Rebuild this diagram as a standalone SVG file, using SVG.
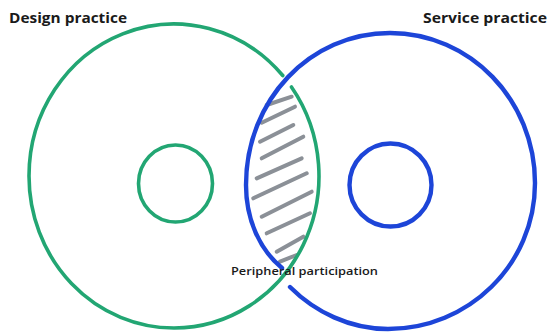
<svg xmlns="http://www.w3.org/2000/svg" width="550" height="332" viewBox="0 0 550 332">
<style>
.bg{fill:#ffffff}
.green{fill:none;stroke:#22a673;stroke-width:3.6;stroke-linecap:round;stroke-linejoin:round}
.blue{fill:none;stroke:#1d45d8;stroke-width:4.4;stroke-linecap:round;stroke-linejoin:round}
.hatch{fill:none;stroke:#8b9097;stroke-width:4;stroke-linecap:round}
.title{font-family:"Open Sans","Liberation Sans",Arial,sans-serif;font-weight:700;fill:#1a1a1a}
.label{font-family:"Open Sans","Liberation Sans",Arial,sans-serif;font-weight:600;fill:#1a1a1a}
</style>
<rect class="bg" x="0" y="0" width="550" height="332"/>
<g id="overlap-hatch">
<line class="hatch" x1="266.7" y1="105" x2="291.7" y2="96.7"/>
<line class="hatch" x1="261.7" y1="122.7" x2="295" y2="106.7"/>
<line class="hatch" x1="260" y1="141.7" x2="293.3" y2="125"/>
<line class="hatch" x1="261.7" y1="158.3" x2="303.3" y2="136.7"/>
<line class="hatch" x1="256.7" y1="178.3" x2="301.7" y2="158.3"/>
<line class="hatch" x1="253.3" y1="198.3" x2="306.7" y2="173.3"/>
<line class="hatch" x1="261.7" y1="216.7" x2="311.7" y2="191.7"/>
<line class="hatch" x1="266.7" y1="233.3" x2="310" y2="213.3"/>
<line class="hatch" x1="276.7" y1="251.7" x2="303.3" y2="236.7"/>
<line class="hatch" x1="280" y1="261.7" x2="296.7" y2="255"/>
</g>
<g id="design-practice">
<path class="green" d="M291.45,86.9 A145,152 0 0 1 174,328 A145,152 0 0 1 29,176 A145,152 0 0 1 282.75,75.5"/>
<ellipse class="green" cx="175.5" cy="183.5" rx="37" ry="38.5"/>
<text class="title" x="9" y="23" font-size="14.5" textLength="118" lengthAdjust="spacingAndGlyphs">Design practice</text>
</g>
<g id="service-practice">
<path class="blue" d="M290,287 C315,312 350,329 388,329 C468,329 535,265 535,183 C535,100 470,33 390,33 C310,33 246,100 246,185 C246,220 260,250 282,268"/>
<ellipse class="blue" cx="390.5" cy="185" rx="41" ry="41.5"/>
<text class="title" x="423" y="23" font-size="14.5" textLength="124" lengthAdjust="spacingAndGlyphs">Service practice</text>
</g>
<g id="peripheral-participation">
<text class="label" x="231" y="275" font-size="11.5" textLength="147" lengthAdjust="spacingAndGlyphs">Peripheral participation</text>
</g>
</svg>
